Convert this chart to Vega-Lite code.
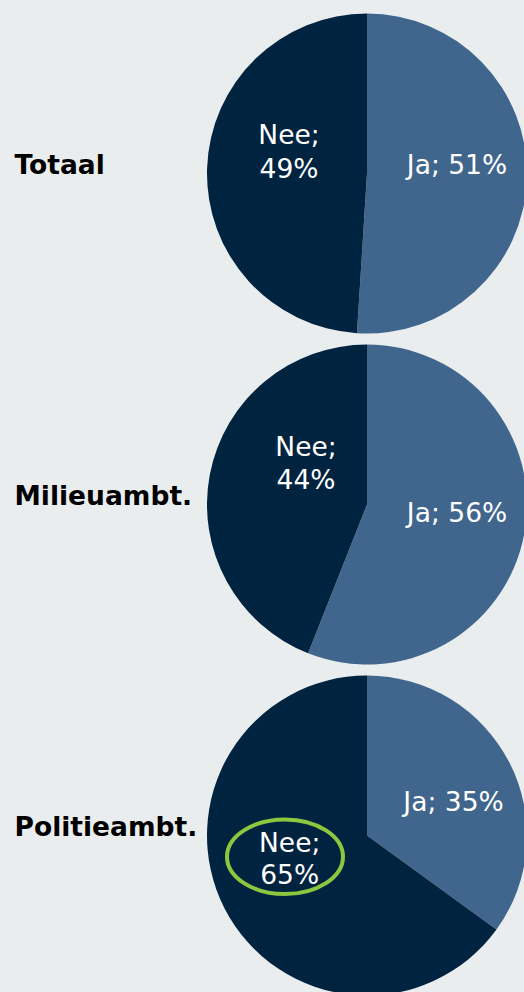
{
  "$schema": "https://vega.github.io/schema/vega-lite/v6.json",
  "width": 314,
  "height": 992,
  "autosize": {"type": "none"},
  "padding": {"left": 210, "top": 0, "right": 0, "bottom": 0},
  "background": "#e9edee",
  "config": {"view": {"stroke": null}, "font": "DejaVu Sans"},
  "data": {
    "values": [
      {"group": "Totaal", "answer": "Ja", "value": 51, "label": "Ja; 51%"},
      {"group": "Totaal", "answer": "Nee", "value": 49, "label": "Nee;\n49%"},
      {"group": "Milieuambt.", "answer": "Ja", "value": 56, "label": "Ja; 56%"},
      {"group": "Milieuambt.", "answer": "Nee", "value": 44, "label": "Nee;\n44%"},
      {"group": "Politieambt.", "answer": "Ja", "value": 35, "label": "Ja; 35%"},
      {"group": "Politieambt.", "answer": "Nee", "value": 65, "label": "Nee;\n65%"}
    ]
  },
  "encoding": {
    "y": {
      "field": "group",
      "type": "nominal",
      "scale": {"type": "point", "domain": ["Totaal", "Milieuambt.", "Politieambt."], "padding": 0.4985, "align": 0.5258},
      "axis": {
        "title": null,
        "domain": false,
        "ticks": false,
        "tickSize": 0,
        "grid": false,
        "labelFont": "DejaVu Sans",
        "labelFontWeight": "bold",
        "labelFontSize": 26.5,
        "labelColor": "#000000",
        "labelAlign": "left",
        "labelBaseline": "alphabetic",
        "labelPadding": 196,
        "labelLimit": 0,
        "labelOverlap": false
      }
    }
  },
  "layer": [
    {
      "transform": [{"filter": "datum.group === 'Totaal'"}],
      "layer": [
        {
          "mark": {"type": "arc", "radius": 160},
          "encoding": {
            "theta": {"field": "value", "type": "quantitative", "stack": true, "scale": {"domain": [0, 100]}},
            "order": {"field": "answer", "type": "ordinal", "sort": "ascending"},
            "color": {"field": "answer", "type": "nominal", "scale": {"domain": ["Ja", "Nee"], "range": ["#41668d", "#002340"]}, "legend": null}
          }
        },
        {
          "mark": {"type": "text", "radius": 85.25, "thetaOffset": 0.14, "dx": 6, "dy": -22.5, "font": "DejaVu Sans", "fontSize": 26.5, "color": "#ffffff", "lineBreak": "\n", "lineHeight": 34},
          "encoding": {
            "theta": {"field": "value", "type": "quantitative", "stack": true},
            "order": {"field": "answer", "type": "ordinal", "sort": "ascending"},
            "detail": {"field": "answer"},
            "text": {"field": "label"}
          }
        }
      ]
    },
    {
      "transform": [{"filter": "datum.group === 'Milieuambt.'"}],
      "layer": [
        {
          "mark": {"type": "arc", "radius": 160},
          "encoding": {
            "theta": {"field": "value", "type": "quantitative", "stack": true},
            "order": {"field": "answer", "type": "ordinal", "sort": "ascending"},
            "color": {"field": "answer", "type": "nominal", "legend": null}
          }
        },
        {
          "mark": {"type": "text", "radius": 82.4, "thetaOffset": 0.223, "dx": 14.5, "dy": -23.4, "font": "DejaVu Sans", "fontSize": 26.5, "color": "#ffffff", "lineBreak": "\n", "lineHeight": 33},
          "encoding": {
            "theta": {"field": "value", "type": "quantitative", "stack": true},
            "order": {"field": "answer", "type": "ordinal", "sort": "ascending"},
            "detail": {"field": "answer"},
            "text": {"field": "label"}
          }
        }
      ]
    },
    {
      "transform": [{"filter": "datum.group === 'Politieambt.'"}],
      "layer": [
        {
          "mark": {"type": "arc", "radius": 160},
          "encoding": {
            "theta": {"field": "value", "type": "quantitative", "stack": true},
            "order": {"field": "answer", "type": "ordinal", "sort": "ascending"},
            "color": {"field": "answer", "type": "nominal", "legend": null}
          }
        },
        {
          "transform": [{"filter": "datum.answer === 'Nee'"}],
          "mark": {
            "type": "point",
            "shape": "M -1 0 A 1 0.643 0 1 0 1 0 A 1 0.643 0 1 0 -1 0 Z",
            "size": 13456,
            "filled": false,
            "color": "#8dc63f",
            "strokeWidth": 4,
            "opacity": 1,
            "xOffset": -82,
            "yOffset": 21.2
          },
          "encoding": {
            "x": {"datum": 0.5, "type": "quantitative", "scale": {"domain": [0, 1]}, "axis": null}
          }
        },
        {
          "mark": {"type": "text", "radius": 84.4, "thetaOffset": 0.228, "dx": 4.6, "dy": -11.8, "font": "DejaVu Sans", "fontSize": 26.5, "color": "#ffffff", "lineBreak": "\n", "lineHeight": 32},
          "encoding": {
            "theta": {"field": "value", "type": "quantitative", "stack": true},
            "order": {"field": "answer", "type": "ordinal", "sort": "ascending"},
            "detail": {"field": "answer"},
            "text": {"field": "label"}
          }
        }
      ]
    }
  ]
}
